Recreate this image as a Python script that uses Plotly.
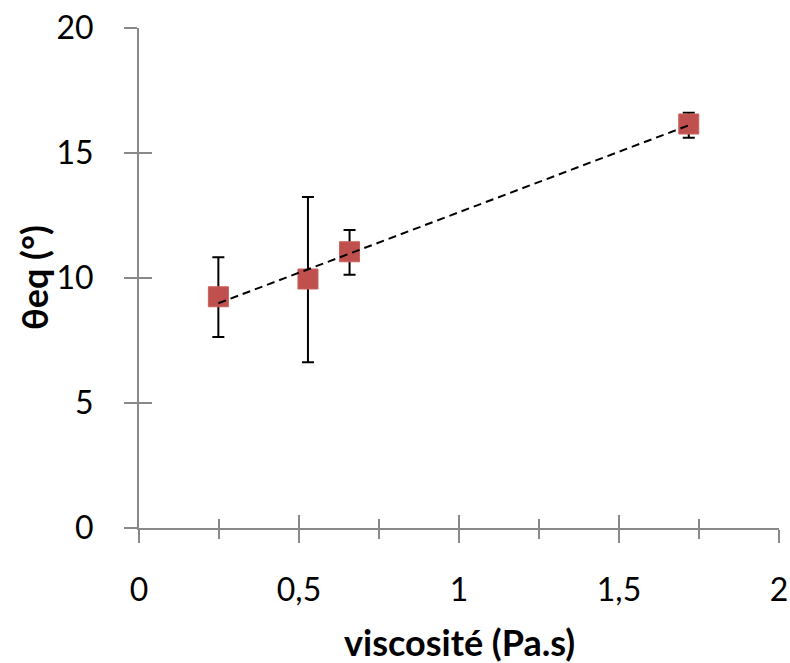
import numpy as np
import plotly.graph_objects as go

# Data
viscosite = [0.248, 0.528, 0.658, 1.718]
theta_eq = [9.25, 9.96, 11.05, 16.16]
err_plus = [1.58, 3.28, 0.87, 0.45]
err_minus = [1.61, 3.33, 0.92, 0.55]
x_ticks = [0, 0.5, 1, 1.5, 2]
y_ticks = [0, 5, 10, 15, 20]

# Linear trendline (least squares) over data range
slope, intercept = np.polyfit(viscosite, theta_eq, 1)
trend_x = [min(viscosite), max(viscosite)]
trend_y = [slope * v + intercept for v in trend_x]

AX = "#898989"
FONT = "Lato"

fig = go.Figure()
fig.add_trace(go.Scatter(
    x=viscosite, y=theta_eq, mode="markers",
    marker=dict(symbol="square", size=20, color="#C0504D",
                line=dict(color="#C9605D", width=1)),
    error_y=dict(type="data", symmetric=False, array=err_plus, arrayminus=err_minus,
                 color="black", thickness=2, width=6),
    showlegend=False, hoverinfo="skip", cliponaxis=False))
fig.add_trace(go.Scatter(
    x=trend_x, y=trend_y, mode="lines",
    line=dict(color="black", width=2, dash="8px,5px"),
    showlegend=False, hoverinfo="skip"))
# invisible trace on overlay axes so they are drawn
fig.add_trace(go.Scatter(x=[None], y=[None], xaxis="x2", yaxis="y2",
                         showlegend=False, hoverinfo="skip"))

common_tick = dict(tickcolor=AX, tickwidth=2, showgrid=False, zeroline=False, automargin=False)
fig.update_layout(
    width=790, height=663,
    margin=dict(l=139, r=11, t=28, b=135),
    paper_bgcolor="white", plot_bgcolor="white",
    separators=", ",
    font=dict(family=FONT, color="black"),
    xaxis=dict(range=[0, 2], tickvals=x_ticks, ticks="outside", ticklen=13,
               showline=True, linecolor=AX, linewidth=2,
               tickfont=dict(size=32, family=FONT), ticklabelstandoff=20,
               minor=dict(dtick=0.25, ticks="outside", ticklen=9, tickcolor=AX, tickwidth=2),
               **common_tick),
    yaxis=dict(range=[0, 20], tickvals=y_ticks, ticks="outside", ticklen=13,
               showline=True, linecolor=AX, linewidth=2,
               tickfont=dict(size=32, family=FONT), ticklabelstandoff=24,
               **common_tick),
    xaxis2=dict(range=[0, 2], tickvals=x_ticks, overlaying="x", anchor="y", side="bottom",
                ticks="inside", ticklen=13, showticklabels=False, showline=False,
                minor=dict(dtick=0.25, ticks="inside", ticklen=9, tickcolor=AX, tickwidth=2),
                **common_tick),
    yaxis2=dict(range=[0, 20], tickvals=y_ticks, overlaying="y", anchor="x", side="left",
                ticks="inside", ticklen=13, showticklabels=False, showline=False,
                **common_tick),
    annotations=[
        dict(text="<b>viscosité (Pa.s)</b>", xref="paper", yref="paper",
             x=0.5, y=0, yshift=-114, xanchor="center", yanchor="middle", showarrow=False,
             font=dict(size=36, family=FONT, color="black")),
        dict(text="<b>θeq (°)</b>", xref="paper", yref="paper",
             x=0, xshift=-105, y=0.5, xanchor="center", yanchor="middle",
             textangle=-90, showarrow=False,
             font=dict(size=36, family=FONT, color="black")),
    ],
)

fig.write_html("out.html")
